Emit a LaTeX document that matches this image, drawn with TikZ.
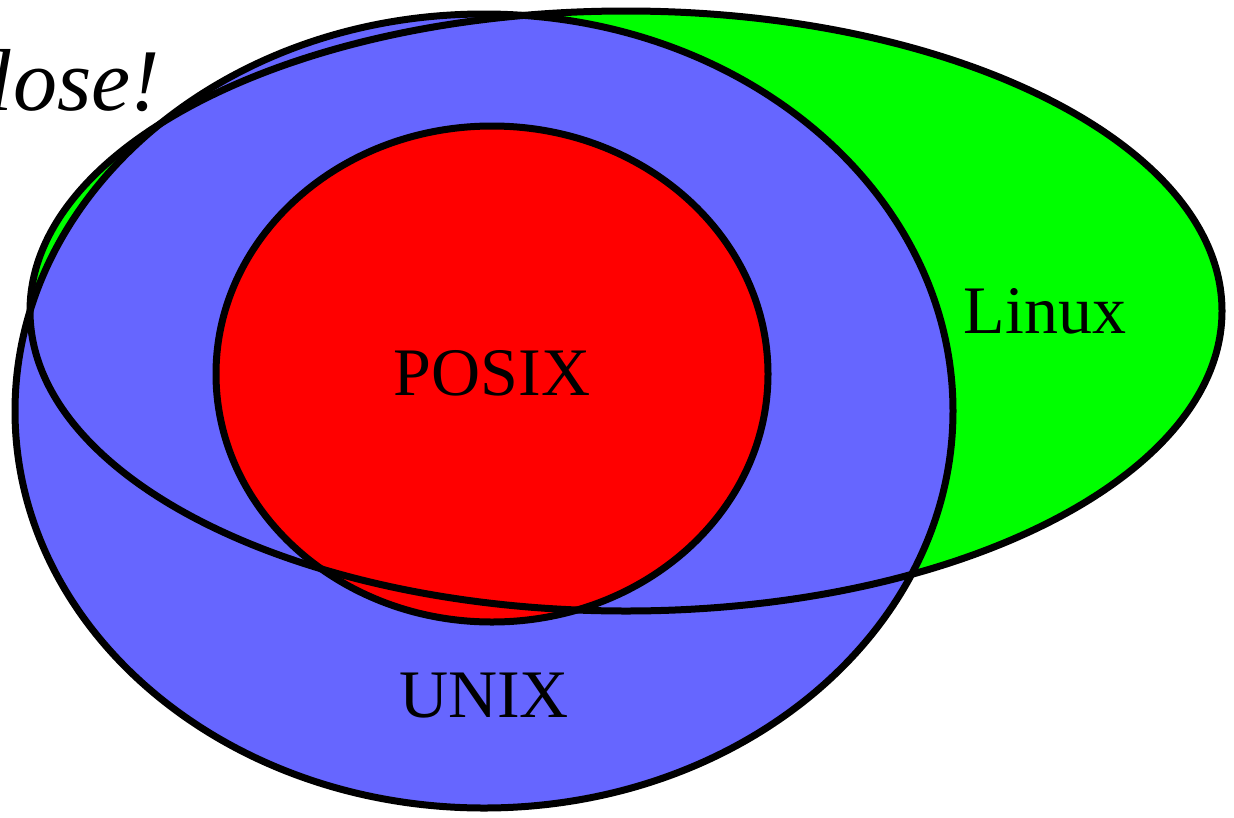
\documentclass[tikz,border=0pt]{standalone}
\usepackage{fontspec}
\setmainfont{Liberation Serif}
\definecolor{unixblue}{HTML}{6666FF}
\definecolor{linuxgreen}{HTML}{00FF00}
\definecolor{posixred}{HTML}{FF0000}
\begin{document}
\begin{tikzpicture}[x=1pt,y=-1pt,
  outline/.style={draw=black,line width=7pt},
  lbl/.style={font=\fontsize{68}{68}\selectfont, inner sep=0pt, anchor=base}]
\useasboundingbox (0,0) rectangle (1234,817);
% fills
\fill[linuxgreen] (626,311) ellipse [x radius=596, y radius=300];
\fill[unixblue] (484,411) ellipse [x radius=469, y radius=397];
\fill[posixred] (492,374) ellipse [x radius=276, y radius=248];
% outlines
\draw[outline] (492,374) ellipse [x radius=276, y radius=248];
\draw[outline] (484,411) ellipse [x radius=469, y radius=397];
\draw[outline] (626,311) ellipse [x radius=596, y radius=300];
% labels
\node[lbl] (posix) at (492,395) {POSIX};
\node[lbl] (unix) at (484,717) {UNIX};
\node[lbl] (linux) at (1045,333) {Linux};
\node[font=\fontsize{88}{88}\selectfont\itshape, inner sep=0pt, anchor=base east] (close) at (160,110) {Close!};
\end{tikzpicture}
\end{document}
